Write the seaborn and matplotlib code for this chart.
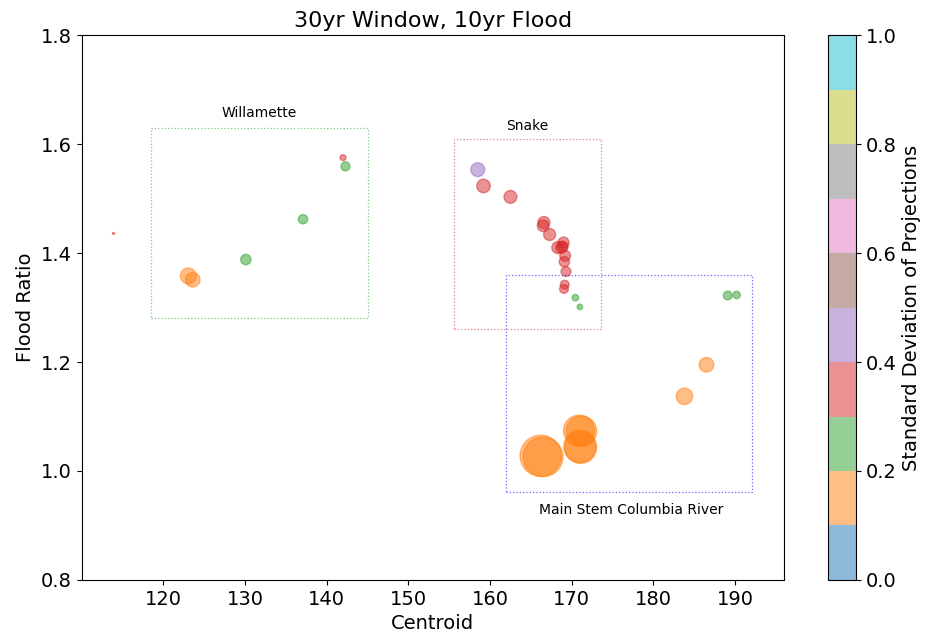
import numpy as np
import pandas as pd
import matplotlib
matplotlib.use("Agg")
import matplotlib.pyplot as plt
import seaborn as sns
from matplotlib.patches import Rectangle
from matplotlib.colors import Normalize
from matplotlib.cm import ScalarMappable

sns.set_style("ticks")
plt.rcParams['font.family'] = ['DejaVu Sans']
for k in ["text.color", "axes.labelcolor", "xtick.color", "ytick.color", "axes.edgecolor"]:
    plt.rcParams[k] = "black"

# Centroid (x), Flood Ratio (y), standard deviation (colour), marker area (points^2)
centroid = [113.9, 123.05, 123.6, 130.1, 137.1, 142.0, 142.3,
            158.5, 159.2, 162.5, 166.6, 166.5, 167.3, 169.0, 168.3, 168.75, 168.9,
            169.2, 169.1, 169.3, 169.15, 169.05, 170.45, 171.0,
            189.1, 190.2, 186.5, 183.8, 170.9, 171.2, 171.0, 171.1, 166.2, 166.5]
flood_ratio = [1.436, 1.358, 1.351, 1.388, 1.462, 1.575, 1.559,
               1.553, 1.523, 1.503, 1.456, 1.450, 1.434, 1.419, 1.410, 1.410, 1.412,
               1.395, 1.384, 1.366, 1.342, 1.334, 1.318, 1.301,
               1.322, 1.323, 1.195, 1.137, 1.074, 1.073, 1.045, 1.043, 1.028, 1.026]
std_dev = [0.35, 0.15, 0.15, 0.25, 0.25, 0.35, 0.25,
           0.45, 0.35, 0.35, 0.35, 0.35, 0.35, 0.35, 0.35, 0.35, 0.35,
           0.35, 0.35, 0.35, 0.35, 0.35, 0.25, 0.25,
           0.25, 0.25, 0.15, 0.15, 0.15, 0.15, 0.15, 0.15, 0.15, 0.15]
area = [2, 130, 110, 55, 45, 18, 42,
        100, 95, 85, 75, 70, 75, 65, 75, 70, 60,
        60, 55, 50, 40, 40, 22, 16,
        40, 28, 110, 140, 500, 480, 540, 520, 880, 820]

# Group boxes: label, (x0, y0, x1, y1), colour, label position
group_names = ["Willamette", "Snake", "Main Stem Columbia River"]
group_boxes = [(118.5, 1.28, 145.0, 1.629), (155.6, 1.26, 173.6, 1.609), (162.0, 0.961, 192.1, 1.359)]
group_colors = ["tab:green", "tab:red", "blue"]
group_label_pos = [(131.7, 1.657), (164.6, 1.633), (177.3, 0.928)]

df = pd.DataFrame({"Centroid": centroid, "Flood Ratio": flood_ratio,
                   "std": std_dev, "area": area})

fig = plt.figure(figsize=(9.25, 6.37), dpi=100)
ax = fig.add_axes([0.0883, 0.0895, 0.7593, 0.8555])
cax = fig.add_axes([0.895, 0.0895, 0.0303, 0.8555])

cmap = plt.get_cmap("tab10")
amin, amax = min(area), max(area)
sns.scatterplot(data=df, x="Centroid", y="Flood Ratio", hue="std", palette=cmap,
                hue_norm=Normalize(0, 1), size="area", sizes=(amin, amax), size_norm=(amin, amax),
                alpha=0.5, legend=False, ax=ax, linewidth=1.0)
coll = ax.collections[0]
coll.set_edgecolors(coll.get_facecolors())

for name, (x0, y0, x1, y1), col, (lx, ly) in zip(group_names, group_boxes, group_colors, group_label_pos):
    ax.add_patch(Rectangle((x0, y0), x1 - x0, y1 - y0, fill=False, edgecolor=col,
                           linestyle=":", linewidth=0.9, alpha=0.6))
    ax.text(lx, ly, name, ha="center", va="center", fontsize=10)

ax.set_xlim(110, 196)
ax.set_ylim(0.8, 1.8)
ax.set_xticks([120, 130, 140, 150, 160, 170, 180, 190])
ax.set_yticks([0.8, 1.0, 1.2, 1.4, 1.6, 1.8])
ax.tick_params(labelsize=14)
ax.set_xlabel("Centroid", fontsize=14)
ax.set_ylabel("Flood Ratio", fontsize=14)
ax.set_title("30yr Window, 10yr Flood", fontsize=16)

sm = ScalarMappable(norm=Normalize(0, 1), cmap=cmap)
sm.set_array([])
cb = fig.colorbar(sm, cax=cax, alpha=0.5)
cb.set_ticks([0.0, 0.2, 0.4, 0.6, 0.8, 1.0])
cb.ax.tick_params(labelsize=14)
cb.set_label("Standard Deviation of Projections", fontsize=14)

fig.savefig("out.png", dpi=100)
